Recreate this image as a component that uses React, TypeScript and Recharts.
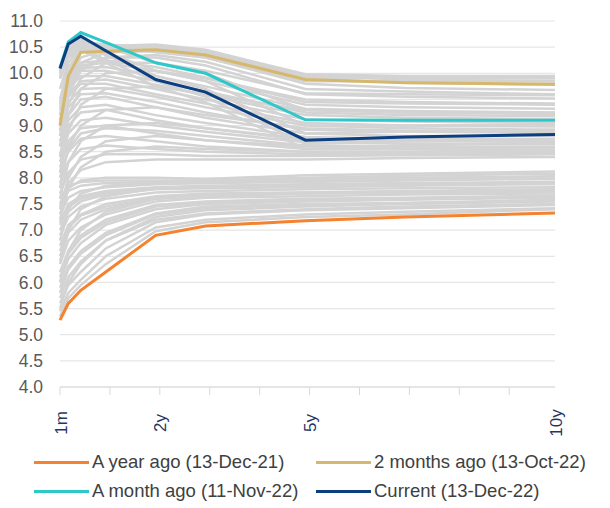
import React from 'react';
import { LineChart, Line, XAxis, YAxis, CartesianGrid } from 'recharts';

// Tenors in months (x position = months after 1m)
const tenorMonths = [1, 3, 6, 12, 24, 36, 60, 84, 120];
const xTickValues = [0, 12, 24, 36, 48, 60, 72, 84, 96, 108, 119];
const xTickLabels: Record<number, string> = { 0: '1m', 24: '2y', 60: '5y', 119: '10y' };
const yTicks = [4, 4.5, 5, 5.5, 6, 6.5, 7, 7.5, 8, 8.5, 9, 9.5, 10, 10.5, 11];

// Highlighted curves: [1m, 3m, 6m, 1y, 2y, 3y, 5y, 7y, 10y]
const yearAgo = [5.28, 5.6, 5.85, 6.2, 6.9, 7.08, 7.18, 7.25, 7.33];
const twoMonthsAgo = [9.0, 9.95, 10.4, 10.42, 10.45, 10.35, 9.88, 9.82, 9.79];
const monthAgo = [10.1, 10.6, 10.78, 10.59, 10.2, 10.0, 9.11, 9.1, 9.1];
const current = [10.09, 10.56, 10.71, 10.43, 9.88, 9.64, 8.72, 8.78, 8.83];

// Historical curves (grey)
const history: number[][] = [
  [5.35, 5.7, 5.95, 6.35, 6.98, 7.15, 7.25, 7.3, 7.4],
  [5.45, 5.8, 6.05, 6.5, 7.05, 7.2, 7.3, 7.35, 7.42],
  [5.5, 6.0, 6.35, 6.8, 7.2, 7.32, 7.4, 7.45, 7.5],
  [5.6, 5.95, 6.2, 6.65, 7.15, 7.3, 7.38, 7.42, 7.48],
  [5.7, 6.1, 6.4, 6.8, 7.25, 7.38, 7.45, 7.5, 7.55],
  [5.8, 6.25, 6.55, 6.9, 7.3, 7.42, 7.48, 7.52, 7.56],
  [5.9, 6.3, 6.6, 6.95, 7.32, 7.45, 7.5, 7.52, 7.58],
  [6.0, 6.45, 6.75, 7.1, 7.4, 7.5, 7.55, 7.58, 7.62],
  [6.0, 6.6, 7.0, 7.35, 7.6, 7.65, 7.7, 7.72, 7.74],
  [6.1, 6.55, 6.85, 7.15, 7.45, 7.52, 7.58, 7.6, 7.64],
  [6.2, 6.6, 6.9, 7.2, 7.48, 7.55, 7.6, 7.62, 7.66],
  [6.35, 6.8, 7.05, 7.3, 7.55, 7.62, 7.65, 7.68, 7.7],
  [6.4, 7.0, 7.4, 7.65, 7.8, 7.82, 7.85, 7.88, 7.92],
  [6.5, 6.95, 7.2, 7.4, 7.6, 7.66, 7.7, 7.72, 7.75],
  [6.6, 7.05, 7.28, 7.45, 7.62, 7.68, 7.72, 7.74, 7.76],
  [6.7, 7.1, 7.3, 7.5, 7.65, 7.7, 7.72, 7.75, 7.78],
  [6.8, 7.4, 7.7, 7.85, 7.9, 7.9, 7.95, 7.98, 8.02],
  [6.9, 7.25, 7.45, 7.6, 7.72, 7.75, 7.78, 7.8, 7.82],
  [7.0, 7.35, 7.55, 7.68, 7.78, 7.8, 7.82, 7.85, 7.88],
  [7.1, 7.45, 7.6, 7.72, 7.8, 7.83, 7.86, 7.88, 7.9],
  [7.15, 7.5, 7.65, 7.75, 7.82, 7.85, 7.88, 7.9, 7.92],
  [7.3, 7.62, 7.75, 7.82, 7.88, 7.9, 7.92, 7.95, 7.98],
  [7.3, 7.8, 7.95, 8.0, 8.0, 7.98, 8.05, 8.08, 8.12],
  [7.45, 7.75, 7.85, 7.9, 7.92, 7.93, 7.97, 8.0, 8.03],
  [7.6, 7.85, 7.92, 7.95, 7.95, 7.95, 8.0, 8.04, 8.08],
  [7.2, 7.8, 8.2, 8.5, 8.6, 8.55, 8.5, 8.5, 8.52],
  [7.4, 8.0, 8.4, 8.7, 8.8, 8.72, 8.6, 8.58, 8.58],
  [7.5, 7.9, 8.15, 8.3, 8.35, 8.35, 8.35, 8.38, 8.4],
  [7.6, 8.3, 8.7, 9.0, 9.05, 8.95, 8.75, 8.72, 8.72],
  [7.7, 8.1, 8.35, 8.45, 8.45, 8.42, 8.42, 8.43, 8.45],
  [7.8, 8.6, 9.0, 9.3, 9.35, 9.2, 8.95, 8.9, 8.9],
  [7.9, 8.3, 8.55, 8.62, 8.55, 8.5, 8.45, 8.46, 8.48],
  [8.0, 8.55, 8.85, 8.95, 8.9, 8.8, 8.62, 8.6, 8.6],
  [8.1, 8.5, 8.75, 8.8, 8.7, 8.6, 8.5, 8.5, 8.52],
  [8.1, 8.9, 9.4, 9.7, 9.75, 9.6, 9.3, 9.25, 9.22],
  [8.2, 8.7, 8.95, 9.0, 8.85, 8.72, 8.55, 8.55, 8.56],
  [8.3, 8.85, 9.1, 9.15, 9.0, 8.88, 8.68, 8.65, 8.65],
  [8.4, 9.2, 9.7, 10.0, 10.05, 9.9, 9.5, 9.45, 9.42],
  [8.45, 9.0, 9.25, 9.3, 9.1, 8.95, 8.72, 8.7, 8.7],
  [8.6, 9.1, 9.35, 9.4, 9.2, 9.05, 8.78, 8.75, 8.74],
  [8.6, 9.4, 9.9, 10.2, 10.2, 10.05, 9.62, 9.6, 9.58],
  [8.7, 9.2, 9.5, 9.55, 9.35, 9.15, 8.85, 8.8, 8.8],
  [8.8, 9.35, 9.6, 9.62, 9.45, 9.25, 8.92, 8.88, 8.86],
  [8.9, 9.45, 9.7, 9.72, 9.55, 9.35, 9.0, 8.95, 8.92],
  [9.0, 9.55, 9.8, 9.8, 9.6, 9.42, 9.05, 9.0, 8.98],
  [9.1, 9.6, 9.85, 9.88, 9.7, 9.5, 9.12, 9.08, 9.05],
  [9.2, 9.7, 9.95, 9.95, 9.78, 9.58, 9.2, 9.15, 9.12],
  [9.3, 9.8, 10.05, 10.05, 9.85, 9.65, 9.25, 9.2, 9.18],
  [9.35, 9.85, 10.1, 10.12, 9.95, 9.75, 9.32, 9.28, 9.25],
  [9.4, 9.9, 10.15, 10.2, 10.05, 9.85, 9.4, 9.35, 9.32],
  [9.45, 9.95, 10.2, 10.25, 10.12, 9.92, 9.45, 9.42, 9.4],
  [9.0, 9.7, 10.1, 10.3, 10.3, 10.15, 9.6, 9.55, 9.52],
  [8.8, 9.6, 10.05, 10.3, 10.35, 10.22, 9.7, 9.65, 9.6],
  [8.9, 9.75, 10.2, 10.4, 10.42, 10.3, 9.8, 9.72, 9.68],
  [9.1, 9.9, 10.3, 10.45, 10.48, 10.38, 9.9, 9.82, 9.78],
  [9.2, 10.0, 10.4, 10.5, 10.52, 10.42, 9.95, 9.88, 9.85],
  [9.5, 10.1, 10.45, 10.5, 10.5, 10.4, 9.92, 9.9, 9.9],
  [9.7, 10.2, 10.5, 10.52, 10.55, 10.45, 9.98, 9.95, 9.95],
  [9.9, 10.3, 10.55, 10.55, 10.5, 10.4, 9.95, 9.92, 9.92],
  [10.0, 10.4, 10.6, 10.55, 10.4, 10.3, 9.85, 9.85, 9.85],
  [10.05, 10.5, 10.65, 10.5, 10.2, 10.0, 9.3, 9.25, 9.25],
  [10.0, 10.45, 10.6, 10.4, 10.05, 9.85, 9.0, 9.0, 9.02],
  [10.0, 10.4, 10.55, 10.35, 9.95, 9.7, 8.85, 8.88, 8.92],
  [9.95, 10.35, 10.5, 10.25, 9.85, 9.55, 8.65, 8.7, 8.75],
  [9.9, 10.3, 10.45, 10.2, 9.75, 9.45, 8.55, 8.62, 8.68],
];

const highlighted = [
  { key: 'yearAgo', name: 'A year ago (13-Dec-21)', values: yearAgo, color: '#F5822F' },
  { key: 'twoMonthsAgo', name: '2 months ago (13-Oct-22)', values: twoMonthsAgo, color: '#D6B86C' },
  { key: 'monthAgo', name: 'A month ago (11-Nov-22)', values: monthAgo, color: '#2EC8C8' },
  { key: 'current', name: 'Current (13-Dec-22)', values: current, color: '#0D3F80' },
];

const data = tenorMonths.map((m, i) => {
  const row: Record<string, number> = { x: m - 1 };
  history.forEach((c, j) => {
    row['h' + j] = c[i];
  });
  highlighted.forEach((s) => {
    row[s.key] = s.values[i];
  });
  return row;
});

const FONT = '"Liberation Sans", Arial, sans-serif';

const XTick = (props: any) => {
  const { x, y, payload } = props;
  const v = payload.value;
  const label = xTickLabels[v];
  return (
    <g>
      {v !== 119 && <line x1={x} x2={x} y1={y - 8} y2={y} stroke="#d9d9d9" strokeWidth={1} />}
      {label && (
        <text
          transform={`translate(${x + 1},${y + 28}) rotate(-90)`}
          textAnchor="middle"
          dominantBaseline="central"
          fill="#1F3864"
          fontSize={17}
          fontFamily={FONT}
        >
          {label}
        </text>
      )}
    </g>
  );
};

const legendPos = [
  { left: 34, top: 462 },
  { left: 316, top: 462 },
  { left: 34, top: 491 },
  { left: 316, top: 491 },
];

export default function App() {
  return (
    <div style={{ position: 'absolute', left: 0, top: 0, width: 610, height: 508, background: '#fff' }}>
      <LineChart width={610} height={508} data={data} margin={{ top: 21, right: 0, bottom: 66, left: 0 }}>
        <CartesianGrid horizontal vertical={false} stroke="#e6e6e6" strokeWidth={1.2} yAxisId="left" />
        <XAxis
          dataKey="x"
          type="number"
          domain={[0, 119]}
          ticks={xTickValues}
          interval={0}
          height={55}
          tickSize={8}
          tickMargin={0}
          tickLine={false}
          axisLine={{ stroke: '#d9d9d9' }}
          tick={<XTick />}
        />
        <YAxis
          yAxisId="left"
          type="number"
          domain={[4, 11]}
          ticks={yTicks}
          interval={0}
          width={60}
          axisLine={false}
          tickLine={false}
          tickMargin={11}
          tickFormatter={(v: number) => v.toFixed(1)}
          tick={{ fill: '#595959', fontSize: 17.5, fontFamily: FONT }}
        />
        <YAxis
          yAxisId="right"
          orientation="right"
          type="number"
          domain={[4, 11]}
          ticks={yTicks}
          interval={0}
          width={55}
          axisLine={false}
          tickLine={false}
          tickMargin={11}
          tickFormatter={(v: number) => v.toFixed(1)}
          tick={{ fill: '#595959', fontSize: 17.5, fontFamily: FONT, textAnchor: 'start' }}
        />
        {history.map((_, j) => (
          <Line
            key={'h' + j}
            yAxisId="left"
            dataKey={'h' + j}
            stroke="#d3d3d3"
            strokeWidth={2.5}
            dot={false}
            activeDot={false}
            isAnimationActive={false}
            legendType="none"
          />
        ))}
        {highlighted.map((s) => (
          <Line
            key={s.key}
            yAxisId="left"
            dataKey={s.key}
            name={s.name}
            stroke={s.color}
            strokeWidth={3}
            dot={false}
            activeDot={false}
            isAnimationActive={false}
          />
        ))}
      </LineChart>
      {highlighted.map((s, i) => (
        <div
          key={s.key}
          style={{
            position: 'absolute',
            left: legendPos[i].left,
            top: legendPos[i].top - 12,
            height: 24,
            display: 'flex',
            alignItems: 'center',
            fontFamily: FONT,
            fontSize: 18.5,
            color: '#404040',
            whiteSpace: 'nowrap',
          }}
        >
          <span style={{ display: 'inline-block', width: 55, height: 3, background: s.color, marginRight: 3 }} />
          <span>{s.name}</span>
        </div>
      ))}
    </div>
  );
}
